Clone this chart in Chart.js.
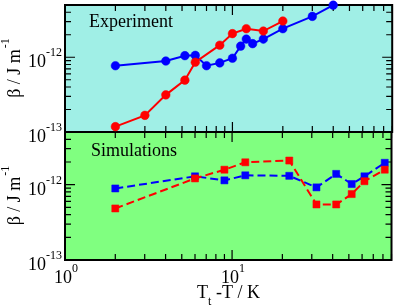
<!DOCTYPE html>
<html><head><meta charset="utf-8">
<script src="https://cdn.jsdelivr.net/npm/chart.js@4.4.1/dist/chart.umd.min.js"></script>
<style>
body{margin:0;background:#fff}
#wrap{position:relative;width:397px;height:307px}
canvas{position:absolute;left:0;top:0}
</style>
</head><body>
<div id="wrap"><canvas id="cBot" width="397" height="307"></canvas><canvas id="cTop" width="397" height="307"></canvas></div>
<script>
// ---- data ----
const xMin = 1, xMax = 90;
const yMin = 1e-13, yMax = 5e-12;

const expBlueX = [2, 4, 5.2, 6, 7, 8.4, 10, 11.2, 12.1, 13.2, 15.3, 20, 30, 40];
const expBlueY = [7.7e-13, 8.9e-13, 1.05e-12, 1.06e-12, 7.7e-13, 8.4e-13, 9.7e-13, 1.41e-12, 1.75e-12, 1.52e-12, 1.75e-12, 2.41e-12, 3.52e-12, 4.98e-12];

const expRedX = [2, 3, 4, 5.2, 6, 8.4, 10, 12.1, 15.3, 20];
const expRedY = [1.18e-13, 1.67e-13, 3.14e-13, 4.94e-13, 8.58e-13, 1.45e-12, 2.07e-12, 2.41e-12, 2.24e-12, 3.05e-12];

const simX = [2, 6, 9, 12, 22, 32, 42, 52, 62, 82];
const simBlueY = [8.9e-13, 1.29e-12, 1.14e-12, 1.33e-12, 1.31e-12, 9.2e-13, 1.39e-12, 1.02e-12, 1.29e-12, 1.95e-12];
const simRedY = [4.83e-13, 1.21e-12, 1.58e-12, 1.98e-12, 2.09e-12, 5.46e-13, 5.46e-13, 7.5e-13, 1.11e-12, 1.58e-12];

const xTickValues = [1, 10];
const xTickExps = ['0', '1'];
const yTickValues = [1e-13, 1e-12];
const yTickExps = ['-13', '-12'];
const tickBase = '10';

const panelTitles = ['Experiment', 'Simulations'];
const yTitleMain = 'β / J m';
const yTitleSup = '-1';
const xTitleParts = ['T', 't', ' -T / K'];

// ---- helpers ----
const FONT = "'Liberation Serif','Times New Roman',serif";
const toXY = (xs, ys) => xs.map((x, i) => ({x: x, y: ys[i]}));

function drawPow(ctx, x, baseline, exp, align) {
  ctx.font = '18px ' + FONT;
  const wb = ctx.measureText(tickBase).width;
  ctx.font = '12px ' + FONT;
  const we = ctx.measureText(exp).width;
  let x0;
  if (align === 'right') x0 = x - wb - we;
  else x0 = x - (wb + we) / 2;
  ctx.textAlign = 'left';
  ctx.textBaseline = 'alphabetic';
  ctx.font = '18px ' + FONT;
  ctx.fillText(tickBase, x0, baseline);
  ctx.font = '12px ' + FONT;
  ctx.fillText(exp, x0 + wb, baseline - 11);
}

function logTicks(scale, min, max, cb) {
  const d0 = Math.floor(Math.log10(min)), d1 = Math.floor(Math.log10(max));
  for (let d = d0; d <= d1; d++) {
    for (let m = 1; m <= 9; m++) {
      const v = m * Math.pow(10, d);
      if (v < min * 0.9999 || v > max * 1.0001) continue;
      cb(scale.getPixelForValue(v), m === 1);
    }
  }
}

function makePanelPlugin(bg, title, titleX, titleY, showX) {
  return {
    id: 'panelDeco',
    beforeDatasetsDraw(chart) {
      const ctx = chart.ctx;
      const {left, right, top, bottom} = chart.chartArea;
      ctx.save();
      ctx.fillStyle = bg;
      ctx.fillRect(left, top, right - left, bottom - top);
      ctx.strokeStyle = '#000';
      ctx.lineWidth = 1.2;
      ctx.beginPath();
      logTicks(chart.scales.x, xMin, xMax, (px, major) => {
        const len = major ? 10 : 6;
        ctx.moveTo(px, top); ctx.lineTo(px, top + len);
        ctx.moveTo(px, bottom); ctx.lineTo(px, bottom - len);
      });
      logTicks(chart.scales.y, yMin, yMax, (py, major) => {
        const len = major ? 10 : 6;
        ctx.moveTo(left, py); ctx.lineTo(left + len, py);
        ctx.moveTo(right, py); ctx.lineTo(right - len, py);
      });
      ctx.stroke();
      ctx.lineWidth = 2;
      ctx.strokeRect(left, top, right - left, bottom - top);
      ctx.restore();
    },
    afterDraw(chart) {
      const ctx = chart.ctx;
      const {left, right, top, bottom} = chart.chartArea;
      ctx.save();
      ctx.fillStyle = '#000';
      // panel title
      ctx.font = '18px ' + FONT;
      ctx.textAlign = 'left';
      ctx.textBaseline = 'alphabetic';
      ctx.fillText(title, titleX, titleY);
      // y tick labels
      yTickValues.forEach((v, i) => {
        const py = chart.scales.y.getPixelForValue(v);
        drawPow(ctx, 62, py + 10, yTickExps[i], 'right');
      });
      // y title (rotated)
      ctx.save();
      const cy = (top + bottom) / 2;
      ctx.translate(20, cy);
      ctx.rotate(-Math.PI / 2);
      ctx.font = '18px ' + FONT;
      const w1 = ctx.measureText(yTitleMain).width;
      ctx.font = '12px ' + FONT;
      const w2 = ctx.measureText(yTitleSup).width;
      const sx = -(w1 + w2) / 2;
      ctx.font = '18px ' + FONT;
      ctx.fillText(yTitleMain, sx, 0);
      ctx.font = '12px ' + FONT;
      ctx.fillText(yTitleSup, sx + w1 + 1, -11);
      ctx.restore();
      if (showX) {
        xTickValues.forEach((v, i) => {
          const px = chart.scales.x.getPixelForValue(v);
          drawPow(ctx, px + 1, 283, xTickExps[i], 'center');
        });
        ctx.font = '18px ' + FONT;
        const wT = ctx.measureText(xTitleParts[0]).width;
        ctx.font = '12px ' + FONT;
        const wt = ctx.measureText(xTitleParts[1]).width;
        ctx.font = '18px ' + FONT;
        const wr = ctx.measureText(xTitleParts[2]).width;
        const total = wT + wt + wr;
        let x0 = 228.5 - total / 2;
        ctx.fillText(xTitleParts[0], x0, 298);
        ctx.font = '12px ' + FONT;
        ctx.fillText(xTitleParts[1], x0 + wT, 305);
        ctx.font = '18px ' + FONT;
        ctx.fillText(xTitleParts[2], x0 + wT + wt, 298);
      }
      ctx.restore();
    }
  };
}

function baseOptions(padding) {
  return {
    responsive: false,
    animation: false,
    devicePixelRatio: 1,
    events: [],
    layout: {padding: padding},
    plugins: {legend: {display: false}, tooltip: {enabled: false}},
    scales: {
      x: {type: 'logarithmic', min: xMin, max: xMax, display: false},
      y: {type: 'logarithmic', min: yMin, max: yMax, display: false}
    }
  };
}

function ds(xs, ys, color, style, dashed) {
  return {
    data: toXY(xs, ys),
    borderColor: color,
    backgroundColor: color,
    pointBackgroundColor: color,
    pointBorderColor: color,
    pointBorderWidth: 0.5,
    borderWidth: 2,
    borderDash: dashed ? [8, 4] : [],
    pointStyle: style,
    pointRadius: style === 'rect' ? 5 : 4.3,
    tension: 0,
    clip: false,
    fill: false
  };
}

new Chart(document.getElementById('cTop'), {
  type: 'line',
  data: {datasets: [
    ds(expRedX, expRedY, '#ff0000', 'circle', false),
    ds(expBlueX, expBlueY, '#0000ff', 'circle', false)
  ]},
  options: baseOptions({left: 65, right: 3, top: 5, bottom: 175}),
  plugins: [makePanelPlugin('#a0efe6', panelTitles[0], 89, 27, false)]
});

new Chart(document.getElementById('cBot'), {
  type: 'line',
  data: {datasets: [
    ds(simX, simRedY, '#ff0000', 'rect', true),
    ds(simX, simBlueY, '#0000ff', 'rect', true)
  ]},
  options: baseOptions({left: 65, right: 3, top: 132, bottom: 47}),
  plugins: [makePanelPlugin('#80ff80', panelTitles[1], 91, 156, true)]
});
</script>
</body></html>
